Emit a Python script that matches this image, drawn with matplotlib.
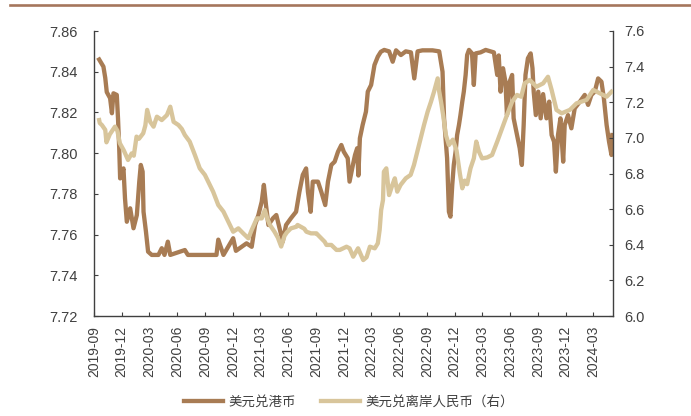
import matplotlib
matplotlib.use("Agg")
import matplotlib.pyplot as plt
import numpy as np
import pandas as pd
from matplotlib.lines import Line2D

# USD/HKD (left axis)
hkd_dates = [
    "2019-09-18", "2019-10-02", "2019-10-08", "2019-10-13", "2019-10-24", "2019-10-30", "2019-11-04", "2019-11-15", "2019-11-19", "2019-11-23",
    "2019-11-26", "2019-12-07", "2019-12-12", "2019-12-18", "2019-12-29", "2020-01-09", "2020-01-20", "2020-01-28", "2020-02-02", "2020-02-08",
    "2020-02-11", "2020-02-19", "2020-02-26", "2020-03-09", "2020-03-31", "2020-04-11", "2020-04-20", "2020-05-01", "2020-05-09", "2020-06-26",
    "2020-07-06", "2020-10-08", "2020-10-14", "2020-10-31", "2020-12-02", "2020-12-11", "2021-01-15", "2021-02-01", "2021-02-12", "2021-02-23",
    "2021-03-06", "2021-03-13", "2021-03-20", "2021-03-28", "2021-04-12", "2021-04-23", "2021-05-09", "2021-05-14", "2021-05-25", "2021-06-10",
    "2021-06-27", "2021-07-08", "2021-07-19", "2021-07-30", "2021-08-05", "2021-08-14", "2021-08-21", "2021-09-07", "2021-09-18", "2021-10-01",
    "2021-10-10", "2021-10-21", "2021-11-01", "2021-11-12", "2021-11-23", "2021-12-01", "2021-12-14", "2021-12-20", "2021-12-31", "2022-01-07",
    "2022-01-14", "2022-01-18", "2022-01-23", "2022-02-01", "2022-02-12", "2022-02-18", "2022-03-01", "2022-03-12", "2022-03-23", "2022-04-02",
    "2022-04-13", "2022-04-29", "2022-05-11", "2022-05-22", "2022-06-07", "2022-06-23", "2022-07-10", "2022-07-21", "2022-08-01", "2022-08-17",
    "2022-09-19", "2022-10-11", "2022-10-22", "2022-10-27", "2022-11-02", "2022-11-06", "2022-11-12", "2022-11-17", "2022-11-23", "2022-11-28",
    "2022-12-04", "2022-12-09", "2022-12-15", "2022-12-20", "2022-12-26", "2022-12-31", "2023-01-06", "2023-01-11", "2023-01-17", "2023-01-27",
    "2023-02-02", "2023-02-08", "2023-02-24", "2023-03-13", "2023-04-09", "2023-04-20", "2023-04-25", "2023-05-01", "2023-05-09", "2023-05-17",
    "2023-05-22", "2023-05-31", "2023-06-08", "2023-06-13", "2023-06-24", "2023-07-03", "2023-07-10", "2023-07-16", "2023-07-22", "2023-07-30",
    "2023-08-08", "2023-08-14", "2023-08-18", "2023-08-25", "2023-09-02", "2023-09-10", "2023-09-18", "2023-09-29", "2023-10-08", "2023-10-16",
    "2023-10-24", "2023-10-30", "2023-11-06", "2023-11-14", "2023-11-23", "2023-11-28", "2023-12-09", "2023-12-20", "2023-12-31", "2024-01-17",
    "2024-02-02", "2024-02-13", "2024-02-24", "2024-03-06", "2024-03-17", "2024-03-28", "2024-04-05", "2024-04-14", "2024-04-22", "2024-04-30",
    "2024-05-03",
]
hkd_rate = [
    7.8460, 7.8425, 7.8370, 7.8300, 7.8270, 7.8196, 7.8294, 7.8286, 7.8171, 7.8024,
    7.7876, 7.7925, 7.7778, 7.7663, 7.7729, 7.7631, 7.7696, 7.7860, 7.7942, 7.7909,
    7.7712, 7.7614, 7.7516, 7.7500, 7.7500, 7.7533, 7.7500, 7.7565, 7.7500, 7.7524,
    7.7500, 7.7500, 7.7575, 7.7500, 7.7582, 7.7520, 7.7557, 7.7540, 7.7647, 7.7696,
    7.7762, 7.7844, 7.7745, 7.7647, 7.7680, 7.7696, 7.7598, 7.7565, 7.7647, 7.7680,
    7.7712, 7.7810, 7.7893, 7.7925, 7.7810, 7.7712, 7.7860, 7.7860, 7.7810, 7.7745,
    7.7860, 7.7942, 7.7958, 7.8007, 7.8040, 7.8007, 7.7975, 7.7860, 7.7942, 7.7991,
    7.8024, 7.7890, 7.8073, 7.8138, 7.8204, 7.8302, 7.8335, 7.8433, 7.8474, 7.8498,
    7.8507, 7.8500, 7.8449, 7.8505, 7.8482, 7.8500, 7.8495, 7.8367, 7.8500, 7.8505,
    7.8505, 7.8500, 7.8400, 7.8171, 7.8056, 7.7975, 7.7712, 7.7688, 7.7844, 7.7942,
    7.8007, 7.8089, 7.8138, 7.8187, 7.8253, 7.8302, 7.8384, 7.8482, 7.8507, 7.8490,
    7.8335, 7.8490, 7.8495, 7.8507, 7.8495, 7.8384, 7.8480, 7.8302, 7.8417, 7.8350,
    7.8187, 7.8351, 7.8384, 7.8171, 7.8089, 7.8024, 7.7942, 7.8138, 7.8384, 7.8466,
    7.8490, 7.8417, 7.8302, 7.8187, 7.8302, 7.8171, 7.8290, 7.8171, 7.8253, 7.8089,
    7.8056, 7.7909, 7.8089, 7.8171, 7.7958, 7.8138, 7.8187, 7.8122, 7.8220, 7.8253,
    7.8286, 7.8237, 7.8286, 7.8302, 7.8367, 7.8351, 7.8269, 7.8138, 7.8056, 7.7991,
    7.8089,
]

# USD/CNH (right axis)
cnh_dates = [
    "2019-09-18", "2019-09-20", "2019-09-27", "2019-10-08", "2019-10-12", "2019-10-23", "2019-11-09", "2019-11-17", "2019-11-25", "2019-12-08",
    "2019-12-22", "2020-01-03", "2020-01-10", "2020-01-19", "2020-01-27", "2020-02-10", "2020-02-17", "2020-02-23", "2020-03-04", "2020-03-15",
    "2020-03-26", "2020-04-11", "2020-04-28", "2020-05-09", "2020-05-20", "2020-06-05", "2020-06-16", "2020-06-26", "2020-07-12", "2020-07-29",
    "2020-08-14", "2020-08-31", "2020-09-16", "2020-09-27", "2020-10-14", "2020-10-31", "2020-11-16", "2020-12-02", "2020-12-19", "2021-01-04",
    "2021-01-21", "2021-02-01", "2021-02-18", "2021-03-06", "2021-03-16", "2021-03-24", "2021-04-02", "2021-04-17", "2021-04-28", "2021-05-09",
    "2021-05-20", "2021-05-28", "2021-06-10", "2021-06-28", "2021-07-02", "2021-07-24", "2021-07-31", "2021-08-15", "2021-09-02", "2021-09-07",
    "2021-09-29", "2021-10-05", "2021-10-21", "2021-11-07", "2021-11-18", "2021-12-10", "2021-12-20", "2022-01-01", "2022-01-17", "2022-02-03",
    "2022-02-14", "2022-02-25", "2022-03-13", "2022-03-23", "2022-03-29", "2022-04-03", "2022-04-09", "2022-04-12", "2022-04-20", "2022-04-29",
    "2022-05-10", "2022-05-18", "2022-05-26", "2022-06-06", "2022-06-23", "2022-07-09", "2022-07-20", "2022-07-31", "2022-08-11", "2022-08-22",
    "2022-09-03", "2022-09-14", "2022-09-24", "2022-10-06", "2022-10-11", "2022-10-17", "2022-10-24", "2022-11-02", "2022-11-12", "2022-11-25",
    "2022-12-07", "2022-12-18", "2022-12-26", "2023-01-03", "2023-01-11", "2023-01-22", "2023-02-02", "2023-02-10", "2023-02-19", "2023-03-01",
    "2023-03-18", "2023-04-03", "2023-04-20", "2023-05-06", "2023-05-22", "2023-06-08", "2023-06-24", "2023-07-08", "2023-07-19", "2023-08-05",
    "2023-08-27", "2023-09-18", "2023-10-04", "2023-10-16", "2023-11-01", "2023-11-18", "2023-12-15", "2024-01-06", "2024-02-08", "2024-03-01",
    "2024-03-23", "2024-04-14", "2024-04-30",
]
cnh_rate = [
    7.100, 7.083, 7.072, 7.045, 6.975, 7.020, 7.063, 7.040, 6.970, 6.930,
    6.876, 6.913, 6.900, 7.007, 6.995, 7.026, 7.070, 7.157, 7.090, 7.063,
    7.119, 7.100, 7.128, 7.175, 7.090, 7.072, 7.050, 7.016, 6.979, 6.904,
    6.829, 6.792, 6.736, 6.698, 6.623, 6.586, 6.530, 6.473, 6.492, 6.464,
    6.436, 6.483, 6.548, 6.548, 6.595, 6.548, 6.511, 6.473, 6.440, 6.390,
    6.450, 6.470, 6.492, 6.501, 6.511, 6.490, 6.473, 6.464, 6.464, 6.455,
    6.417, 6.399, 6.399, 6.371, 6.371, 6.389, 6.380, 6.333, 6.380, 6.314,
    6.330, 6.389, 6.380, 6.408, 6.483, 6.595, 6.651, 6.810, 6.829, 6.679,
    6.736, 6.773, 6.698, 6.736, 6.773, 6.792, 6.848, 6.922, 6.997, 7.072,
    7.147, 7.203, 7.259, 7.334, 7.260, 7.203, 7.128, 7.016, 6.960, 6.990,
    6.930, 6.800, 6.717, 6.760, 6.740, 6.829, 6.885, 6.979, 6.922, 6.885,
    6.890, 6.904, 6.979, 7.054, 7.128, 7.203, 7.241, 7.231, 7.306, 7.325,
    7.287, 7.306, 7.343, 7.269, 7.157, 7.138, 7.157, 7.194, 7.213, 7.269,
    7.250, 7.231, 7.259,
]

hkd_label = "美元兑港币"
cnh_label = "美元兑离岸人民币（右）"

left_ticks = [7.72, 7.74, 7.76, 7.78, 7.80, 7.82, 7.84, 7.86]
right_ticks = [6.0, 6.2, 6.4, 6.6, 6.8, 7.0, 7.2, 7.4, 7.6]
x_tick_dates = pd.date_range("2019-09-01", "2024-03-01", freq="3MS")

HKD_COLOR = "#A87C54"
CNH_COLOR = "#D8C59B"
TEXT_COLOR = "#404040"
AXIS_COLOR = "#404040"
LINE_W = 3.1

plt.rcParams["font.family"] = ["Liberation Sans", "DejaVu Sans"]

fig = plt.figure(figsize=(6.91, 4.16), dpi=100)
ax = fig.add_axes([94 / 691, 1 - 316 / 416, (612.7 - 94) / 691, (316 - 31) / 416])
ax2 = ax.twinx()

hkd_x = pd.to_datetime(hkd_dates)
cnh_x = pd.to_datetime(cnh_dates)

ax.plot(hkd_x, hkd_rate, color=HKD_COLOR, lw=LINE_W, solid_joinstyle="round", zorder=3)
ax2.plot(cnh_x, cnh_rate, color=CNH_COLOR, lw=LINE_W, solid_joinstyle="round", zorder=3)

ax.set_xlim(pd.Timestamp("2019-09-01"), pd.Timestamp("2024-05-04"))
ax.set_ylim(7.72, 7.86)
ax2.set_ylim(6.0, 7.6)

ax.set_yticks(left_ticks)
ax.set_yticklabels([f"{v:.2f}" for v in left_ticks])
ax2.set_yticks(right_ticks)
ax2.set_yticklabels([f"{v:.1f}" for v in right_ticks])
ax.set_xticks(x_tick_dates)
ax.set_xticklabels([d.strftime("%Y-%m") for d in x_tick_dates], rotation=90)

for a in (ax, ax2):
    a.spines["top"].set_visible(False)
    for s in ("left", "right", "bottom"):
        a.spines[s].set_color(AXIS_COLOR)
        a.spines[s].set_linewidth(1.0)
ax.spines["right"].set_visible(False)
ax2.spines["left"].set_visible(False)
ax2.spines["bottom"].set_visible(False)

ax.tick_params(axis="y", direction="in", length=3, width=0.8, color=AXIS_COLOR,
               labelsize=10.5, labelcolor=TEXT_COLOR, pad=12)
ax.tick_params(axis="x", direction="in", length=3, width=0.8, color=AXIS_COLOR,
               labelsize=10, labelcolor=TEXT_COLOR, pad=7)
ax2.tick_params(axis="y", direction="in", length=3, width=0.8, color=AXIS_COLOR,
                labelsize=10.5, labelcolor=TEXT_COLOR, pad=8)

# decorative rule along the top edge
fig.add_artist(Line2D([10 / 691, 1.0], [1 - 4.5 / 416, 1 - 4.5 / 416],
                      color="#A5765C", lw=1.9, transform=fig.transFigure))

handles = [Line2D([], [], color=HKD_COLOR, lw=LINE_W),
           Line2D([], [], color=CNH_COLOR, lw=LINE_W)]
fig.legend(handles, [hkd_label, cnh_label], loc="center",
           bbox_to_anchor=(349 / 691, 1 - 402 / 416), ncol=2, frameon=False,
           handlelength=2.9, handletextpad=0.35, columnspacing=1.9,
           prop={"family": ["Noto Sans CJK SC", "DejaVu Sans"], "size": 9.7},
           labelcolor=TEXT_COLOR)

fig.savefig("out.png", dpi=100)
